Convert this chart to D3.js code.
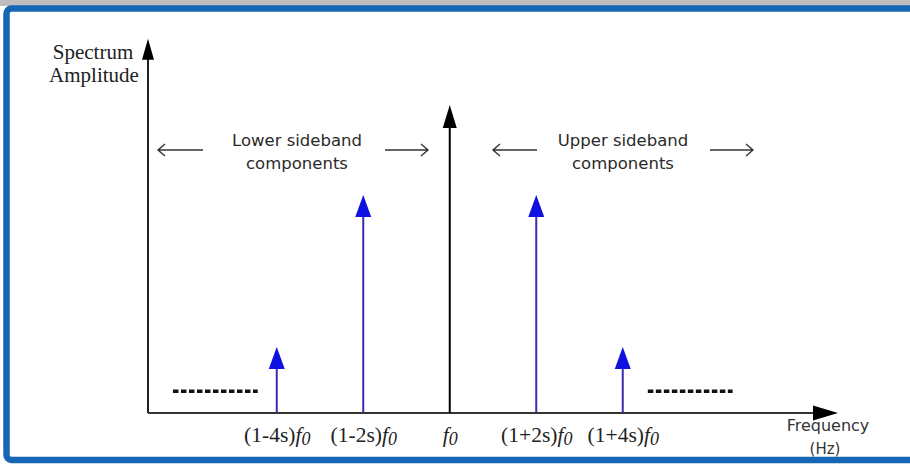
<!DOCTYPE html>
<html>
<head>
<meta charset="utf-8">
<script src="https://cdn.jsdelivr.net/npm/d3@7"></script>
<style>
  body { margin: 0; background: #fff; }
  svg { display: block; }
</style>
</head>
<body>
<div id="chart"></div>
<script>
// spectral lines: offset from f0 in units of s, relative amplitude
var offsets = [-4, -2, 0, 2, 4];
var amplitudes = [0.214, 0.708, 1.0, 0.708, 0.214];
var prefixes = ["(1-4s)", "(1-2s)", "", "(1+2s)", "(1+4s)"];
// "..." continuation dashes (start, end offsets, level)
var dashStart = [-6.4, 4.58];
var dashEnd = [-4.44, 6.54];
var dashLevel = 0.071;

var width = 910, height = 464;

var svg = d3.select("#chart")
    .append("svg")
    .attr("width", width)
    .attr("height", height);

// frame
svg.append("rect")
    .attr("x", 0).attr("y", 0).attr("width", width).attr("height", 6)
    .attr("fill", "#bdbdbd");
svg.append("rect")
    .attr("x", 6.5).attr("y", 8.5)
    .attr("width", 1000).attr("height", 451.5)
    .attr("rx", 5)
    .attr("fill", "#fff")
    .attr("stroke", "#1766b5")
    .attr("stroke-width", 6.5);

var x = d3.scaleLinear()
    .domain([-7, 9])
    .range([147, 839]);

var y = d3.scaleLinear()
    .domain([0, 1])
    .range([413, 105]);

function tri(cx, tipY, w, h) {
    return "M" + cx + "," + tipY + "L" + (cx - w / 2) + "," + (tipY + h) +
        "L" + (cx + w / 2) + "," + (tipY + h) + "Z";
}

// axes
var x0 = x(-7) + 1, y0 = y(0);
svg.append("line")
    .attr("x1", x0).attr("x2", x0)
    .attr("y1", y0).attr("y2", y(1.2) + 10)
    .attr("stroke", "#222").attr("stroke-width", 2);
svg.append("path")
    .attr("d", tri(x0, y(1.215), 12, 21))
    .attr("fill", "#000");

svg.append("line")
    .attr("x1", x0).attr("x2", x(9) - 14)
    .attr("y1", y0).attr("y2", y0)
    .attr("stroke", "#333").attr("stroke-width", 2);
svg.append("path")
    .attr("d", "M" + (x(9) - 1) + "," + y0 + "L" + (x(9) - 26) + "," + (y0 - 7.5) +
        "L" + (x(9) - 26) + "," + (y0 + 7.5) + "Z")
    .attr("fill", "#000");

// tick labels
var xAxis = svg.append("g")
    .attr("transform", "translate(0," + (y0 + 2) + ")")
    .call(d3.axisBottom(x).tickValues(offsets).tickSize(0).tickPadding(12).tickFormat(""));
xAxis.select(".domain").remove();
xAxis.selectAll(".tick text")
    .attr("font-family", "'Liberation Serif', 'Times New Roman', serif")
    .attr("font-size", 21.5)
    .attr("fill", "#222")
    .each(function (d, i) {
        var t = d3.select(this);
        t.append("tspan").text(prefixes[i]);
        t.append("tspan").attr("font-style", "italic").text("f");
        t.append("tspan").attr("font-style", "italic").attr("font-size", 18)
            .attr("dy", 3).text("0");
    });

// spectral lines
var lines = svg.append("g");
offsets.forEach(function (o, i) {
    var c = o === 0 ? "#000" : "#3a2eb0";
    var head = o === 0 ? "#000" : "#1010e0";
    var tipY = y(amplitudes[i]);
    lines.append("line")
        .attr("x1", x(o)).attr("x2", x(o))
        .attr("y1", y0).attr("y2", tipY + 15)
        .attr("stroke", c).attr("stroke-width", 2);
    lines.append("path")
        .attr("d", o === 0 ? tri(x(o), tipY, 14, 23) : tri(x(o), tipY, 16, 22))
        .attr("fill", head);
});

// continuation dashes
dashStart.forEach(function (s, i) {
    svg.append("line")
        .attr("x1", x(s)).attr("x2", x(dashEnd[i]))
        .attr("y1", y(dashLevel)).attr("y2", y(dashLevel))
        .attr("stroke", "#111").attr("stroke-width", 3.5)
        .attr("stroke-dasharray", "5.5,2.5");
});

// axis titles
var serif = "'Liberation Serif', 'Times New Roman', serif";
svg.append("text").attr("x", 93).attr("y", 59)
    .attr("text-anchor", "middle").attr("font-family", serif)
    .attr("font-size", 21).attr("fill", "#222").text("Spectrum");
svg.append("text").attr("x", 94).attr("y", 82)
    .attr("text-anchor", "middle").attr("font-family", serif)
    .attr("font-size", 21).attr("fill", "#222").text("Amplitude");

var sans = "'DejaVu Sans', sans-serif";
svg.append("text").attr("x", 828).attr("y", 431)
    .attr("text-anchor", "middle").attr("font-family", sans)
    .attr("font-size", 16).attr("fill", "#333").text("Frequency");
svg.append("text").attr("x", 825).attr("y", 454)
    .attr("text-anchor", "middle").attr("font-family", sans)
    .attr("font-size", 15).attr("fill", "#333").text("(Hz)");

// sideband annotations
var bands = [
    {label: "Lower sideband", cx: 297, left: [158, 203], right: [385, 428]},
    {label: "Upper sideband", cx: 623, left: [493, 537], right: [710, 753]}
];
var ay = 150;
bands.forEach(function (b) {
    svg.append("text").attr("x", b.cx).attr("y", 146)
        .attr("text-anchor", "middle").attr("font-family", sans)
        .attr("font-size", 16.5).attr("fill", "#2a2a2a").text(b.label);
    svg.append("text").attr("x", b.cx).attr("y", 169)
        .attr("text-anchor", "middle").attr("font-family", sans)
        .attr("font-size", 16.5).attr("fill", "#2a2a2a").text("components");
    svg.append("path")
        .attr("d", "M" + b.left[1] + "," + ay + "H" + b.left[0] +
            "M" + (b.left[0] + 7) + "," + (ay - 6) + "L" + b.left[0] + "," + ay +
            "L" + (b.left[0] + 7) + "," + (ay + 6))
        .attr("fill", "none").attr("stroke", "#333").attr("stroke-width", 1.4);
    svg.append("path")
        .attr("d", "M" + b.right[0] + "," + ay + "H" + b.right[1] +
            "M" + (b.right[1] - 7) + "," + (ay - 6) + "L" + b.right[1] + "," + ay +
            "L" + (b.right[1] - 7) + "," + (ay + 6))
        .attr("fill", "none").attr("stroke", "#333").attr("stroke-width", 1.4);
});
</script>
</body>
</html>
